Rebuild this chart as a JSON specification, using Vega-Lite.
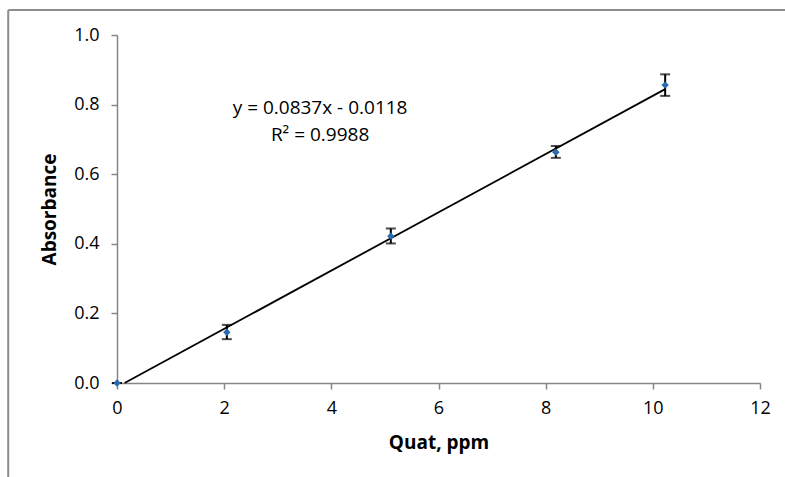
{
  "$schema": "https://vega.github.io/schema/vega-lite/v6.json",
  "width": 643,
  "height": 348,
  "autosize": {"type": "none"},
  "padding": {"left": 117, "top": 35, "right": 25, "bottom": 94},
  "background": "white",
  "config": {
    "view": {"stroke": null},
    "font": "Open Sans",
    "axis": {
      "grid": false,
      "domainColor": "#868686",
      "domainWidth": 1.5,
      "tickColor": "#868686",
      "tickWidth": 1.5,
      "tickSize": 6,
      "labelFlush": false,
      "labelOverlap": false,
      "labelFont": "Open Sans",
      "labelFontSize": 18,
      "labelColor": "#000000",
      "titleFont": "Open Sans",
      "titleFontSize": 19,
      "titleFontWeight": "bold",
      "titleColor": "#000000"
    }
  },
  "datasets": {
    "pts": [
      {"x": 0, "y": 0, "lo": 0, "hi": 0},
      {"x": 2.05, "y": 0.146, "lo": 0.126, "hi": 0.167},
      {"x": 5.11, "y": 0.422, "lo": 0.401, "hi": 0.444},
      {"x": 8.19, "y": 0.663, "lo": 0.647, "hi": 0.681},
      {"x": 10.23, "y": 0.856, "lo": 0.825, "hi": 0.887}
    ],
    "trend": [
      {"x": 0.141, "y": 0},
      {"x": 10.23, "y": 0.8445}
    ],
    "frameLeft": [
      {"x": -2.03, "y": 1.072, "y2": -0.3}
    ],
    "frameTop": [
      {"y": 1.072, "x": -2.03, "x2": 12.6}
    ],
    "labels": [
      {"x": 3.79, "y": 0.79, "t": "y = 0.0837x - 0.0118"},
      {"x": 3.79, "y": 0.712, "t": "R² = 0.9988"}
    ]
  },
  "layer": [
    {
      "data": {"name": "trend"},
      "mark": {"type": "line", "color": "#000000", "strokeWidth": 1.8},
      "encoding": {
        "x": {"field": "x", "type": "quantitative", "scale": {"domain": [0, 12]},
          "axis": {"title": "Quat, ppm", "values": [0, 2, 4, 6, 8, 10, 12], "format": "d", "labelPadding": 10, "titlePadding": 16}},
        "y": {"field": "y", "type": "quantitative", "scale": {"domain": [0, 1]},
          "axis": {"title": "Absorbance", "values": [0, 0.2, 0.4, 0.6, 0.8, 1.0], "format": ".1f", "labelPadding": 12, "titlePadding": 14}}
      }
    },
    {
      "data": {"name": "frameLeft"},
      "mark": {"type": "rule", "clip": false, "color": "#8c8c8c", "strokeWidth": 2},
      "encoding": {
        "x": {"field": "x", "type": "quantitative"},
        "y": {"field": "y", "type": "quantitative"},
        "y2": {"field": "y2"}
      }
    },
    {
      "data": {"name": "frameTop"},
      "mark": {"type": "rule", "clip": false, "color": "#8c8c8c", "strokeWidth": 2},
      "encoding": {
        "x": {"field": "x", "type": "quantitative"},
        "x2": {"field": "x2"},
        "y": {"field": "y", "type": "quantitative"}
      }
    },
    {
      "data": {"name": "pts"},
      "mark": {"type": "rule", "color": "#000000", "strokeWidth": 2},
      "encoding": {
        "x": {"field": "x", "type": "quantitative"},
        "y": {"field": "lo", "type": "quantitative"},
        "y2": {"field": "hi"}
      }
    },
    {
      "data": {"name": "pts"},
      "mark": {"type": "tick", "orient": "horizontal", "color": "#000000", "thickness": 2, "size": 10},
      "encoding": {
        "x": {"field": "x", "type": "quantitative"},
        "y": {"field": "lo", "type": "quantitative"}
      }
    },
    {
      "data": {"name": "pts"},
      "mark": {"type": "tick", "orient": "horizontal", "color": "#000000", "thickness": 2, "size": 10},
      "encoding": {
        "x": {"field": "x", "type": "quantitative"},
        "y": {"field": "hi", "type": "quantitative"}
      }
    },
    {
      "data": {"name": "pts"},
      "mark": {"type": "point", "shape": "diamond", "filled": true, "color": "#2a6ab0", "size": 55, "opacity": 1, "clip": false},
      "encoding": {
        "x": {"field": "x", "type": "quantitative"},
        "y": {"field": "y", "type": "quantitative"}
      }
    },
    {
      "data": {"name": "labels"},
      "mark": {"type": "text", "font": "Open Sans", "fontSize": 19, "color": "#000000", "align": "center", "baseline": "middle"},
      "encoding": {
        "x": {"field": "x", "type": "quantitative"},
        "y": {"field": "y", "type": "quantitative"},
        "text": {"field": "t"}
      }
    }
  ]
}
